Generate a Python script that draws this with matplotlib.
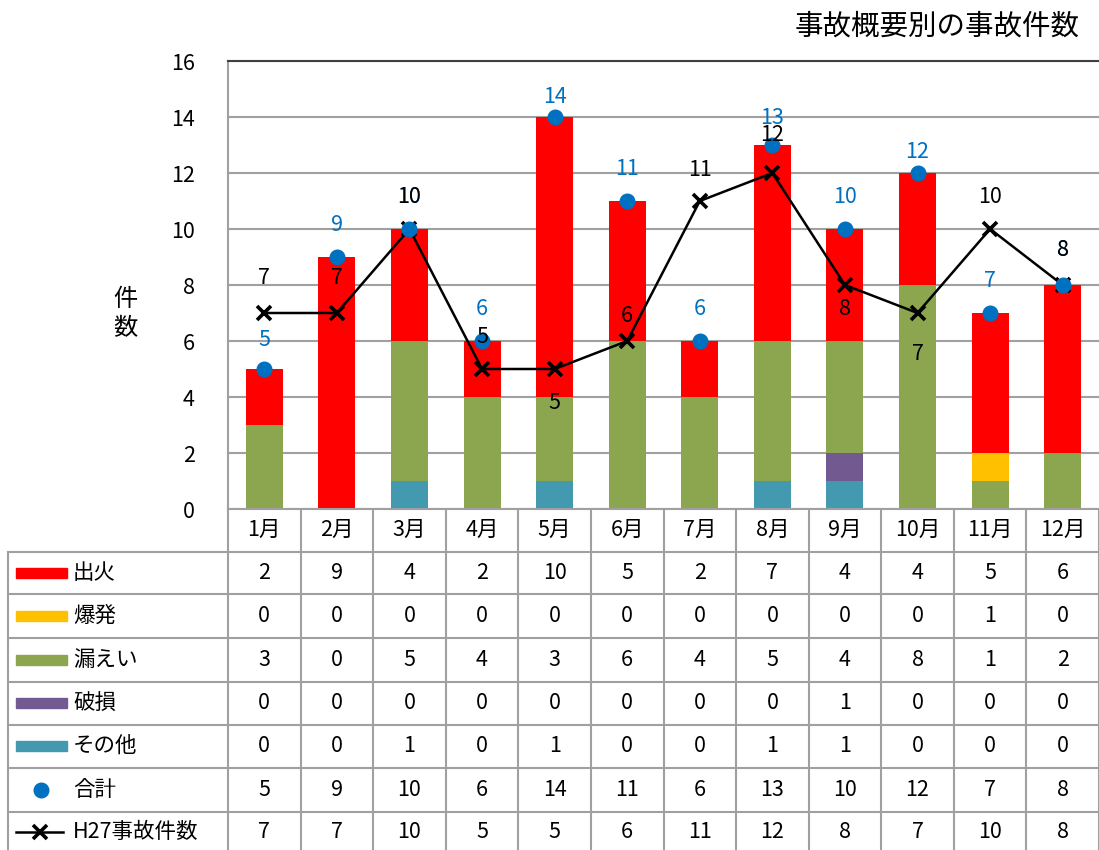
import matplotlib
matplotlib.use("Agg")
import matplotlib.pyplot as plt
from matplotlib.patches import Rectangle
from matplotlib.lines import Line2D
import matplotlib.transforms as mtransforms

plt.rcParams['font.family'] = ['Noto Sans CJK JP', 'DejaVu Sans']

# ---------------- data ----------------
months = ['1月', '2月', '3月', '4月', '5月', '6月', '7月', '8月', '9月', '10月', '11月', '12月']
fire = [2, 9, 4, 2, 10, 5, 2, 7, 4, 4, 5, 6]        # 出火
explosion = [0, 0, 0, 0, 0, 0, 0, 0, 0, 0, 1, 0]   # 爆発
leak = [3, 0, 5, 4, 3, 6, 4, 5, 4, 8, 1, 2]        # 漏えい
damage = [0, 0, 0, 0, 0, 0, 0, 0, 1, 0, 0, 0]      # 破損
other = [0, 0, 1, 0, 1, 0, 0, 1, 1, 0, 0, 0]       # その他
total = [5, 9, 10, 6, 14, 11, 6, 13, 10, 12, 7, 8]  # 合計
h27 = [7, 7, 10, 5, 5, 6, 11, 12, 8, 7, 10, 8]     # H27事故件数

# ---------------- styles ----------------
C_FIRE = '#FF0000'
C_EXPL = '#FFC000'
C_LEAK = '#8BA64F'
C_DMG = '#72598F'
C_OTHER = '#4299B0'
C_DOT = '#0070C0'
GRID = '#A0A0A0'
FS = 15.5

# label offsets in pixels (negative = above)
tot_off = [-29, -32, -32, -32, -20, -32, -32, -27, -32, -21, -32, -35]
h27_off = [-35, -35, -32, -32, 34, -25, -31, -38, 24, 41, -32, -35]

W, H = 1099, 850
fig = plt.figure(figsize=(W / 100, H / 100), dpi=100)

ax_l, ax_r, ax_t, ax_b = 228, 1099, 61, 509
ax = fig.add_axes([ax_l / W, (H - ax_b) / H, (ax_r - ax_l) / W, (ax_b - ax_t) / H])
ax.set_xlim(-0.5, 11.5)
ax.set_ylim(0, 16)
ax.set_yticks(range(0, 17, 2))
ax.set_xticks([])
ax.tick_params(axis='y', length=0, labelsize=FS, pad=24)
for lab in ax.get_yticklabels():
    lab.set_horizontalalignment('right')
ax.grid(axis='y', color=GRID, linewidth=1.5)
ax.set_axisbelow(True)
ax.spines['right'].set_visible(False)
ax.spines['left'].set_color(GRID)
ax.spines['left'].set_linewidth(1.5)
ax.spines['bottom'].set_color(GRID)
ax.spines['bottom'].set_linewidth(1.5)
ax.spines['top'].set_color('#404040')
ax.spines['top'].set_linewidth(1.5)

x = list(range(len(months)))
bw = 0.51
bottom = [0] * 12
for vals, col in [(other, C_OTHER), (damage, C_DMG), (leak, C_LEAK), (explosion, C_EXPL), (fire, C_FIRE)]:
    ax.bar(x, vals, bw, bottom=bottom, color=col, zorder=2)
    bottom = [b + v for b, v in zip(bottom, vals)]

ax.plot(x, h27, color='black', linewidth=1.8, marker='x', markersize=10,
        markeredgewidth=2.6, zorder=3, clip_on=False)
ax.plot(x, total, linestyle='none', marker='o', markersize=10.5, color=C_DOT,
        zorder=4, clip_on=False)

for i in x:
    ax.annotate(str(total[i]), (i, total[i]), xytext=(0, -tot_off[i] * 0.72),
                textcoords='offset points', ha='center', va='center',
                color=C_DOT, fontsize=FS, zorder=5, annotation_clip=False)
for i in x:
    ax.annotate(str(h27[i]), (i, h27[i]), xytext=(0, -h27_off[i] * 0.72),
                textcoords='offset points', ha='center', va='center',
                color='black', fontsize=FS, zorder=6, annotation_clip=False)

# ---------------- data table ----------------
tax = fig.add_axes([0, 0, 1, 1], zorder=-1)
tax.set_xlim(0, W)
tax.set_ylim(H, 0)
tax.axis('off')
blend = mtransforms.blended_transform_factory(ax.transData, tax.transData)

row_lines = [552, 594, 638, 682, 725, 768, 812]
row_centers = [573, 616, 660, 703, 746, 790, 832]
header_center = 530

TL = '#A0A0A0'
for yl in row_lines:
    tax.add_line(Line2D([8, W], [yl, yl], color=TL, linewidth=1.5))
tax.add_line(Line2D([8, 8], [552, H], color=TL, linewidth=1.5))
for k in range(13):
    xb = k - 0.5
    tax.add_line(Line2D([xb, xb], [509, H], color=TL, linewidth=1.5, transform=blend))

for i, m in enumerate(months):
    tax.text(i, header_center, m, transform=blend, ha='center', va='center', fontsize=FS)

rows = [
    ('出火', fire, 'rect', C_FIRE),
    ('爆発', explosion, 'rect', C_EXPL),
    ('漏えい', leak, 'rect', C_LEAK),
    ('破損', damage, 'rect', C_DMG),
    ('その他', other, 'rect', C_OTHER),
    ('合計', total, 'dot', C_DOT),
    ('H27事故件数', h27, 'line', 'black'),
]
for (name, vals, kind, col), yc in zip(rows, row_centers):
    if kind == 'rect':
        tax.add_patch(Rectangle((16, yc - 5), 51, 10, color=col))
    elif kind == 'dot':
        tax.plot([41], [yc], marker='o', markersize=10.5, color=col, linestyle='none')
    else:
        tax.add_line(Line2D([16, 63], [yc, yc], color='black', linewidth=1.8))
        tax.plot([40], [yc], marker='x', markersize=10, markeredgewidth=2.6,
                 color='black', linestyle='none')
    tax.text(73, yc, name, ha='left', va='center', fontsize=FS)
    for i, v in enumerate(vals):
        tax.text(i, yc, str(v), transform=blend, ha='center', va='center', fontsize=FS)

# ---------------- titles ----------------
fig.text(1080 / W, 1 - 27 / H, '事故概要別の事故件数', ha='right', va='center', fontsize=20.5)
fig.text(125 / W, 1 - 314 / H, '件\n数', ha='center', va='center', fontsize=17.5, linespacing=1.15)

fig.savefig('out.png', dpi=100)
